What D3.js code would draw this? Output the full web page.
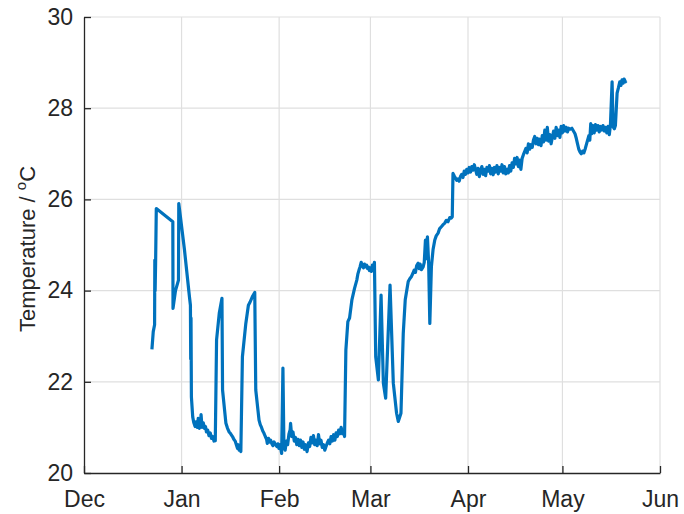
<!DOCTYPE html>
<html><head><meta charset="utf-8">
<script src="https://cdn.jsdelivr.net/npm/d3@7"></script>
<style>body{margin:0;background:#fff}svg{display:block}</style>
</head><body>
<svg id="c" width="684" height="514"></svg>
<script>
// readings: [days since 1 Dec 2023, temperature °C]
const readings = [
[21.58,22.71],[22.0,23.10],[22.43,23.25],[22.5,24.67],[22.6,24.0],[22.75,24.6],[22.97,25.80],
[28.22,25.51],[28.28,23.61],[29.07,24.0],[30.02,24.23],[30.11,25.91],[31.91,24.9],[33.49,23.87],
[33.81,23.68],[33.9,22.5],[34.0,23.4],[34.12,21.67],[34.54,21.23],[34.9,21.10],[35.3,21.02],
[35.6,21.12],[36.0,21.0],[36.3,21.20],[36.65,20.98],[37.0,21.05],[37.19,21.28],[37.5,21.0],
[37.9,21.10],[38.23,20.98],[38.6,21.02],[38.9,20.90],[39.3,20.94],[39.7,20.82],[40.1,20.88],
[40.5,20.76],[40.9,20.80],[41.3,20.70],[41.71,20.71],
[42.12,22.92],[42.97,23.50],[43.83,23.83],[44.02,21.82],
[45.09,21.09],[45.6,20.98],[46.13,20.90],[46.6,20.86],[47.18,20.80],[47.6,20.74],[48.03,20.70],
[48.4,20.62],[48.76,20.54],[49.0,20.62],[49.29,20.50],[49.6,20.58],[49.83,20.47],
[50.33,22.55],[51.41,23.28],[52.23,23.68],[52.77,23.75],[53.5,23.87],[54.25,23.96],[54.57,21.82],
[55.61,21.16],[56.0,21.06],[56.4,21.00],[56.8,20.92],[57.19,20.87],[57.6,20.80],[58.0,20.74],
[58.24,20.65],[58.6,20.76],[59.0,20.68],[59.31,20.72],[59.7,20.64],[60.04,20.60],[60.4,20.68],
[60.89,20.62],[61.3,20.58],[61.6,20.64],[61.93,20.54],
[62.3,20.62],[62.79,20.43],[63.2,22.30],[63.52,20.58],[63.9,20.50],[64.3,20.70],[64.7,20.62],
[65.1,20.85],[65.5,20.95],[65.63,21.09],[66.0,20.80],[66.4,20.90],[66.8,20.70],[67.2,20.78],
[67.6,20.62],[68.0,20.74],[68.4,20.60],[68.8,20.72],[69.2,20.56],[69.6,20.68],[70.0,20.52],
[70.4,20.62],[70.87,20.47],[71.3,20.66],[71.7,20.58],[72.1,20.78],[72.5,20.66],[72.9,20.82],
[73.3,20.62],[73.7,20.72],[74.1,20.60],[74.5,20.84],[74.9,20.64],[75.3,20.72],[75.7,20.56],
[76.1,20.62],[76.5,20.50],[76.9,20.58],[77.3,20.66],[77.7,20.72],[78.1,20.64],[78.5,20.80],
[78.9,20.70],[79.3,20.84],[79.7,20.72],[80.1,20.88],[80.5,20.80],[80.9,20.94],[81.3,20.86],
[81.7,21.00],[82.1,20.86],[82.5,20.94],[82.78,20.80],
[83.2,22.70],[83.83,23.32],[84.37,23.4],[85.1,23.79],[85.95,24.05],[86.67,24.23],[87.0,24.36],
[87.37,24.45],[87.7,24.52],[88.06,24.62],[88.4,24.55],[88.79,24.50],[89.1,24.58],[89.42,24.52],
[89.8,24.56],[90.1,24.48],[90.37,24.52],[90.7,24.44],[91.0,24.50],[91.3,24.42],[91.63,24.56],
[92.0,24.50],[92.27,24.62],[92.68,22.55],[93.53,22.04],[94.38,23.90],[95.11,21.97],[95.84,21.64],
[97.23,24.12],[98.27,21.97],[99.31,21.31],[99.85,21.13],[100.7,21.31],[101.43,23.06],[102.06,23.8],
[103.01,24.20],[103.5,24.26],[104.05,24.31],[104.5,24.38],[104.9,24.45],[105.3,24.40],[105.7,24.55],
[106.17,24.60],[106.5,24.48],[106.8,24.58],[107.2,24.46],[107.75,24.52],[108.1,24.62],[108.48,25.11],
[108.8,24.70],[109.11,25.18],[109.5,24.60],[109.87,23.28],[110.37,24.52],[110.9,24.90],[111.45,25.11],
[111.9,25.20],[112.49,25.26],[113.0,25.36],[113.53,25.40],[114.0,25.44],[114.61,25.48],[115.1,25.54],
[115.65,25.51],[116.2,25.60],[116.69,25.59],[117.0,25.62],
[117.23,26.57],[117.6,26.52],[118.0,26.47],[118.4,26.42],[118.8,26.45],[119.2,26.40],[119.6,26.50],
[120.0,26.55],[120.4,26.48],[120.8,26.62],[121.2,26.55],[121.6,26.66],[122.0,26.58],[122.4,26.70],
[122.8,26.60],[123.2,26.72],[123.6,26.64],[124.0,26.76],[124.4,26.66],[124.8,26.55],[125.2,26.68],
[125.6,26.50],[126.0,26.64],[126.4,26.72],[126.8,26.55],[127.2,26.66],[127.6,26.52],[128.0,26.70],
[128.4,26.62],[128.8,26.74],[129.2,26.56],[129.6,26.68],[130.0,26.54],[130.4,26.70],[130.8,26.60],
[131.2,26.74],[131.6,26.56],[132.0,26.70],[132.4,26.62],[132.8,26.76],[133.2,26.58],[133.6,26.72],
[134.0,26.56],[134.4,26.66],[134.8,26.58],[135.2,26.74],[135.6,26.62],[136.0,26.80],[136.4,26.70],
[136.8,26.90],[137.2,26.78],[137.6,26.92],[138.0,26.72],[138.4,26.86],[138.8,26.66],[139.2,26.90],
[139.6,26.98],[140.0,27.05],[140.4,27.12],[140.8,27.02],[141.2,27.22],[141.6,27.10],[142.0,27.20],
[142.4,27.14],[142.8,27.30],[143.2,27.38],[143.6,27.22],[144.0,27.34],[144.4,27.20],[144.8,27.32],
[145.2,27.18],[145.6,27.40],[146.0,27.26],[146.4,27.52],[146.8,27.30],[147.2,27.58],[147.6,27.28],
[148.0,27.42],[148.4,27.22],[148.8,27.36],[149.2,27.50],[149.6,27.34],[150.0,27.58],[150.4,27.40],
[150.8,27.52],[151.2,27.36],[151.6,27.60],[152.0,27.46],[152.4,27.62],[152.8,27.50],[153.2,27.58],
[153.6,27.48],[154.0,27.56],[154.5,27.54],[155.0,27.56],[155.5,27.50],[156.0,27.44],[156.4,27.34],
[156.8,27.22],[157.2,27.10],[157.6,27.04],[158.0,27.00],[158.4,27.06],[158.8,27.02],[159.2,27.10],
[159.6,27.20],[160.0,27.30],[160.4,27.40],[160.7,27.30],[161.0,27.66],[161.3,27.44],[161.7,27.62],
[162.1,27.46],[162.5,27.64],[162.9,27.52],[163.3,27.62],[163.7,27.48],[164.1,27.60],[164.5,27.52],
[164.9,27.62],[165.3,27.50],[165.7,27.58],[166.1,27.46],[166.5,27.60],[166.9,27.42],[167.25,27.63],
[167.78,28.58],[168.1,27.59],[168.5,27.55],[168.83,27.62],[169.37,28.33],[169.8,28.45],[170.22,28.58],
[170.6,28.50],[170.95,28.62],[171.3,28.55],[171.58,28.64],[172.0,28.58],[172.3,28.60]
];
const monthTicks = ["2023-12-01","2024-01-01","2024-02-01","2024-03-01","2024-04-01","2024-05-01","2024-06-01"];
const monthLabels = ["Dec","Jan","Feb","Mar","Apr","May","Jun"];
const yTicks = [20,22,24,26,28,30];

const W=684,H=514,m={l:84,t:17,r:24,b:41};
const svg=d3.select("#c");
const start=new Date(2023,11,1), end=new Date(2024,5,1);
const x=d3.scaleTime().domain([start,end]).range([m.l,W-m.r]);
const y=d3.scaleLinear().domain([20,30]).range([H-m.b,m.t]);
const tickDates=monthTicks.map(s=>{const p=s.split("-");return new Date(+p[0],+p[1]-1,+p[2]);});
const toDate=d=>new Date(start.getTime()+d*864e5);

const font="'Liberation Sans', Arial, sans-serif";
const g=svg.append("g");
g.selectAll(".gx").data(tickDates.slice(1)).enter().append("line")
 .attr("x1",d=>x(d)).attr("x2",d=>x(d)).attr("y1",y(20)).attr("y2",y(30))
 .attr("stroke","#dfdfdf").attr("stroke-width",1.2);
g.selectAll(".gy").data(yTicks.slice(1)).enter().append("line")
 .attr("x1",m.l).attr("x2",W-m.r).attr("y1",d=>y(d)).attr("y2",d=>y(d))
 .attr("stroke","#dfdfdf").attr("stroke-width",1.2);

const pts=readings.map(r=>[toDate(r[0]),r[1]]);
svg.append("path").datum(pts)
 .attr("d",d3.line().x(d=>x(d[0])).y(d=>y(d[1])))
 .attr("fill","none").attr("stroke","#0072BD").attr("stroke-width",3.2)
 .attr("stroke-linejoin","round");

const xa=svg.append("g").attr("transform",`translate(0,${H-m.b})`)
 .call(d3.axisBottom(x).tickValues(tickDates).tickFormat((d,i)=>monthLabels[i]).tickSizeInner(-7).tickSizeOuter(0).tickPadding(18));
const ya=svg.append("g").attr("transform",`translate(${m.l},0)`)
 .call(d3.axisLeft(y).tickValues(yTicks).tickFormat(d3.format("d")).tickSizeInner(-7).tickSizeOuter(0).tickPadding(11));
[xa,ya].forEach(a=>{
 a.select(".domain").attr("stroke","#262626").attr("stroke-width",1.3);
 a.selectAll(".tick line").attr("stroke","#262626").attr("stroke-width",1.3);
 a.selectAll(".tick text").attr("fill","#262626").style("font-family",font).style("font-size","23px");
});

const yl=svg.append("text").attr("transform","translate(35,249) rotate(-90)")
 .attr("text-anchor","middle").attr("fill","#262626")
 .style("font-family",font).style("font-size","22px");
yl.append("tspan").text("Temperature / ");
yl.append("tspan").attr("dy",-9).style("font-size","15px").text("o");
yl.append("tspan").attr("dy",9).text("C");
</script>
</body></html>
